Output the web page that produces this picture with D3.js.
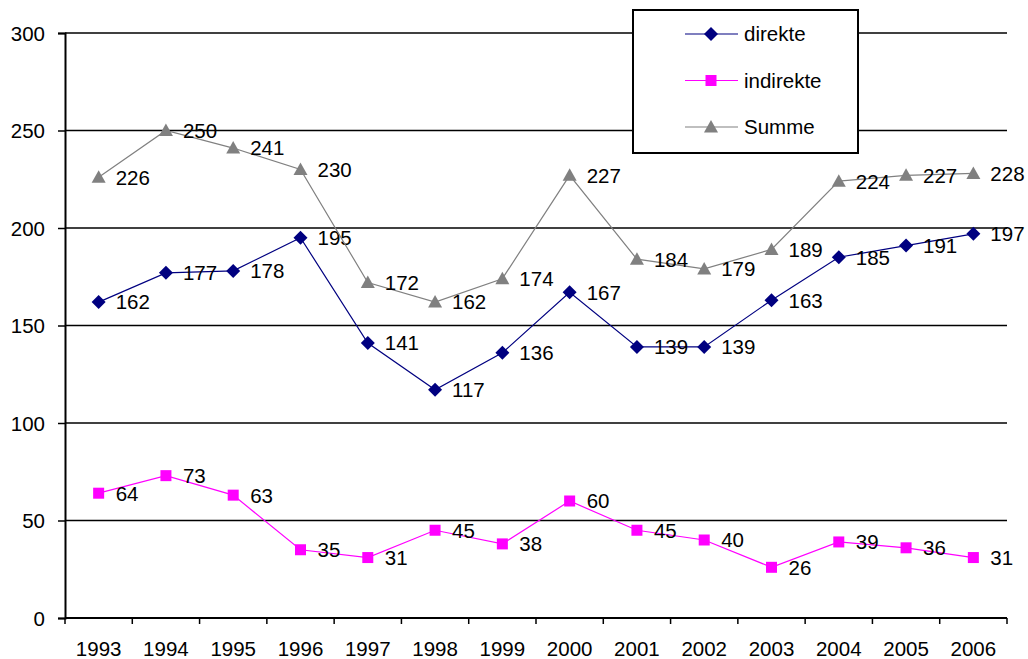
<!DOCTYPE html>
<html>
<head>
<meta charset="utf-8">
<script src="https://cdn.jsdelivr.net/npm/d3@7"></script>
<style>
  body { margin: 0; background: #fff; }
  svg { display: block; }
  text { font-family: "Liberation Sans", Arial, sans-serif; fill: #000; }
</style>
</head>
<body>
<svg id="chart" width="1028" height="659"></svg>
<script>
// values
var years = ["1993","1994","1995","1996","1997","1998","1999","2000","2001","2002","2003","2004","2005","2006"];
var direkte   = [162,177,178,195,141,117,136,167,139,139,163,185,191,197];
var indirekte = [64,73,63,35,31,45,38,60,45,40,26,39,36,31];
var summe     = [226,250,241,230,172,162,174,227,184,179,189,224,227,228];
var yTicks    = [0,50,100,150,200,250,300];

var seriesNames = ["direkte","indirekte","Summe"];
var seriesColors = ["#000080","#ff00ff","#808080"];
var seriesValues = [direkte, indirekte, summe];

// note: "top" is taken by window.top, so use other names
var plotLeft = 65, plotRight = 1007, plotTop = 33, plotBottom = 618
  , fontSize = 20.5;

var svg = d3.select("#chart");

var x = d3.scaleBand()
  .domain(years)
  .range([plotLeft, plotRight]);

var y = d3.scaleLinear()
  .domain([0, 300])
  .range([plotBottom, plotTop]);

// gridlines
svg.append("g")
  .selectAll("line")
  .data(yTicks.filter(d => d > 0))
  .enter().append("line")
  .attr("x1", plotLeft).attr("x2", plotRight)
  .attr("y1", d => y(d)).attr("y2", d => y(d))
  .attr("stroke", "#000").attr("stroke-width", 1.5);

// y axis
var yAxis = svg.append("g")
  .attr("transform", "translate(" + plotLeft + ",0)")
  .call(d3.axisLeft(y).tickValues(yTicks).tickSize(7).tickPadding(13));
yAxis.select(".domain").attr("stroke-width", 2);
yAxis.selectAll(".tick line").attr("stroke-width", 1.5);
yAxis.selectAll("text")
  .style("font-size", fontSize + "px")
  .style("font-family", "'Liberation Sans', Arial, sans-serif")
  .attr("dy", "0.35em");

// x axis, ticks between categories like excel does
var xAxis = svg.append("g")
  .attr("transform", "translate(0," + plotBottom + ")");
xAxis.append("line")
  .attr("x1", plotLeft).attr("x2", plotRight)
  .attr("stroke", "#000").attr("stroke-width", 2);
xAxis.selectAll(".xtick")
  .data(years.concat(["end"]))
  .enter().append("line")
  .attr("class", "xtick")
  .attr("x1", (d, i) => plotLeft + i * x.step())
  .attr("x2", (d, i) => plotLeft + i * x.step())
  .attr("y1", 0).attr("y2", 6)
  .attr("stroke", "#000").attr("stroke-width", 1.5);
xAxis.selectAll(".xlabel")
  .data(years)
  .enter().append("text")
  .attr("class", "xlabel")
  .attr("x", d => x(d) + x.bandwidth() / 2)
  .attr("y", 38)
  .attr("text-anchor", "middle")
  .style("font-size", fontSize + "px")
  .text(d => d);

// markers
function marker(g, i) {
  if (i === 0) {
    g.append("path").attr("d", "M0,-7L7,0L0,7L-7,0Z");
  } else if (i === 1) {
    g.append("rect").attr("x", -5.5).attr("y", -5.5).attr("width", 11).attr("height", 11);
  } else {
    g.append("path").attr("d", "M0,-7L7,5.5L-7,5.5Z");
  }
}

var line = d3.line()
  .x((d, i) => x(years[i]) + x.bandwidth() / 2)
  .y(d => y(d));

seriesValues.forEach(function(vals, si) {
  var g = svg.append("g").attr("class", "series");
  g.append("path")
    .datum(vals)
    .attr("d", line)
    .attr("fill", "none")
    .attr("stroke", seriesColors[si])
    .attr("stroke-width", 1.2);

  g.selectAll(".pt")
    .data(vals)
    .enter().append("g")
    .attr("class", "pt")
    .attr("transform", (d, i) => "translate(" + (x(years[i]) + x.bandwidth() / 2) + "," + y(d) + ")")
    .attr("fill", seriesColors[si])
    .each(function() { marker(d3.select(this), si); });

  g.selectAll(".lbl")
    .data(vals)
    .enter().append("text")
    .attr("class", "lbl")
    .attr("x", (d, i) => x(years[i]) + x.bandwidth() / 2 + 17)
    .attr("y", d => y(d))
    .attr("dy", "0.36em")
    .style("font-size", fontSize + "px")
    .text(d => d);
});

// legend
var legend = svg.append("g").attr("transform", "translate(633,10)");
legend.append("rect")
  .attr("width", 225).attr("height", 143)
  .attr("fill", "#fff").attr("stroke", "#000").attr("stroke-width", 2);
seriesNames.forEach(function(name, si) {
  var ly = 24 + si * 46.5;
  var row = legend.append("g").attr("transform", "translate(0," + ly + ")");
  row.append("line")
    .attr("x1", 52).attr("x2", 105)
    .attr("stroke", seriesColors[si]).attr("stroke-width", 1.2);
  var m = row.append("g").attr("transform", "translate(78,0)").attr("fill", seriesColors[si]);
  marker(m, si);
  row.append("text")
    .attr("x", 111).attr("y", 0).attr("dy", "0.36em")
    .style("font-size", fontSize + "px")
    .text(name);
});
</script>
</body>
</html>
